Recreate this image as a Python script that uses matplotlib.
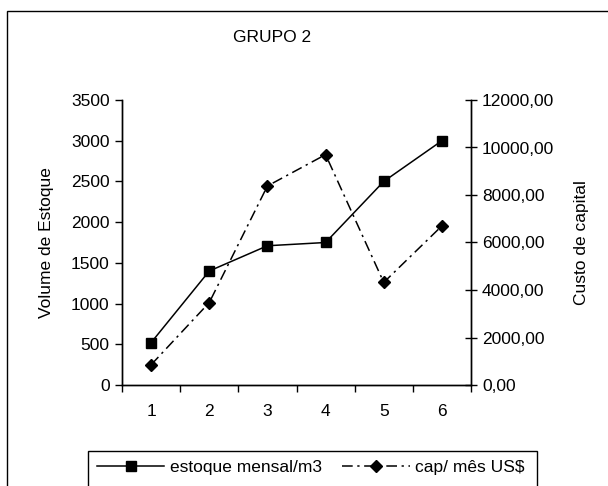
import matplotlib
matplotlib.use("Agg")
import matplotlib.pyplot as plt
from matplotlib.patches import Rectangle
from matplotlib.ticker import FixedLocator, NullFormatter, FuncFormatter

plt.rcParams['font.family'] = ['Liberation Sans', 'DejaVu Sans']

months = [1, 2, 3, 4, 5, 6]
month_labels = ['1', '2', '3', '4', '5', '6']
estoque = [520, 1400, 1710, 1750, 2500, 3000]
capital = [850, 3470, 8380, 9700, 4320, 6700]

W, H = 608, 486
fig = plt.figure(figsize=(W / 100, H / 100), dpi=100)

# outer chart-area border (continues past the right and bottom edges)
fig.patches.append(Rectangle((7 / W, 1 - 700 / H), 800 / W, 689 / H,
                             transform=fig.transFigure, fill=False,
                             edgecolor='black', linewidth=1.0))
# legend border, also running past the bottom edge
fig.patches.append(Rectangle((88 / W, 1 - 520 / H), (537 - 88) / W, (520 - 451) / H,
                             transform=fig.transFigure, fill=False,
                             edgecolor='black', linewidth=1.0))

ax = fig.add_axes([122 / W, 1 - 385 / H, (471 - 122) / W, (385 - 100) / H])
ax2 = ax.twinx()

fs = 12.5
ax.plot(months, estoque, color='black', linewidth=1.1, marker='s',
        markersize=7, label='estoque mensal/m3', zorder=3)
ax2.plot(months, capital, color='black', linewidth=1.1, marker='D',
         markersize=6, dashes=(7, 3, 1.5, 3), label='cap/ mês US$', zorder=3)

ax.set_xlim(0.5, 6.5)
ax.set_ylim(0, 3500)
ax2.set_ylim(0, 12000)

ax.set_yticks(range(0, 3501, 500))
ax2.set_yticks(range(0, 12001, 2000))
ax2.yaxis.set_major_formatter(FuncFormatter(lambda v, p: f"{v:.2f}".replace('.', ',')))

# category boundaries carry the ticks, labels sit at the centres
ax.xaxis.set_major_locator(FixedLocator([0.5 + i for i in range(7)]))
ax.xaxis.set_major_formatter(NullFormatter())
ax.xaxis.set_minor_locator(FixedLocator(months))
ax.set_xticklabels(month_labels, minor=True)
ax.tick_params(axis='x', which='major', direction='out', length=5, width=1)
ax.tick_params(axis='x', which='minor', length=0, pad=14, labelsize=fs)
ax.tick_params(axis='y', direction='out', length=5, width=1, pad=4, labelsize=fs)
ax2.tick_params(axis='y', direction='inout', length=8, width=1, pad=4, labelsize=fs)

for a in (ax, ax2):
    for s in a.spines.values():
        s.set_linewidth(1.0)
ax.spines['top'].set_visible(False)
ax2.spines['top'].set_visible(False)

ax.set_ylabel('Volume de Estoque', fontsize=fs, labelpad=12)
ax2.set_ylabel('Custo de capital', fontsize=fs, labelpad=14)

fig.text(272 / W, 1 - 37 / H, 'GRUPO 2', ha='center', va='center', fontsize=fs)

h1, l1 = ax.get_legend_handles_labels()
h2, l2 = ax2.get_legend_handles_labels()
leg = fig.legend(h1 + h2, l1 + l2, loc='upper left',
                 bbox_to_anchor=(88 / W, 1 - 451 / H), ncol=2, fontsize=fs,
                 frameon=False,
                 handlelength=3.9, handletextpad=0.3, columnspacing=1.2,
                 borderpad=0.5, borderaxespad=0)

fig.savefig('out.png', dpi=100)
